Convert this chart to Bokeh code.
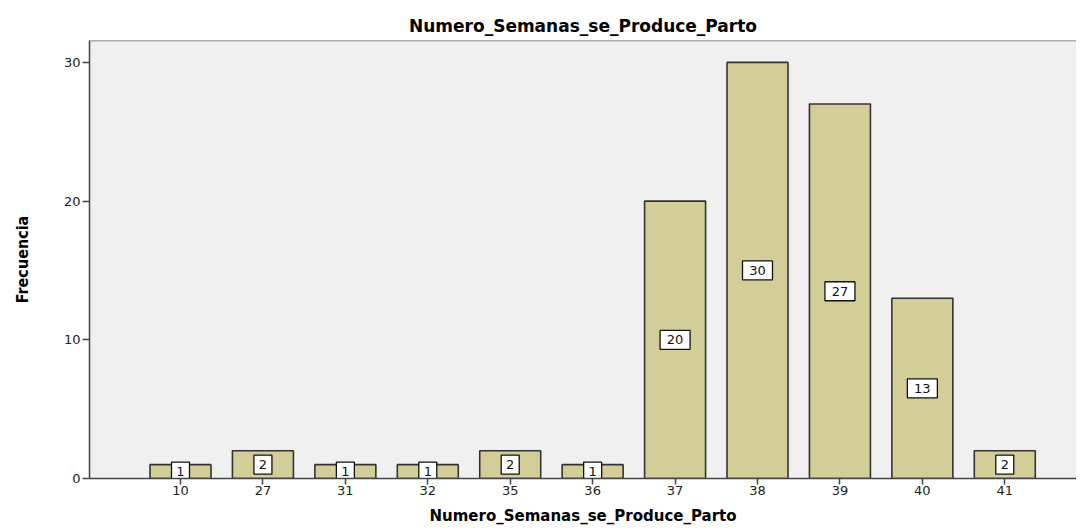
from bokeh.plotting import figure
from bokeh.models import ColumnDataSource, FixedTicker, Range1d, Span
from bokeh.core.properties import value
from bokeh.embed import file_html
from bokeh.resources import INLINE

semanas = ["10", "27", "31", "32", "35", "36", "37", "38", "39", "40", "41"]
frecuencia = [1, 2, 1, 1, 2, 1, 20, 30, 27, 13, 2]

xs = list(range(len(semanas)))
src = ColumnDataSource(dict(
    x=xs,
    top=frecuencia,
    mid=[v / 2 for v in frecuencia],
    txt=[str(v) for v in frecuencia],
    bw=[6 + 12 * len(str(v)) for v in frecuencia],
))

YTOP = 31.58
p = figure(width=1076, height=527, output_backend="svg", toolbar_location=None,
           x_range=Range1d(-1.104, 10.87), y_range=Range1d(0, YTOP),
           min_border_left=89, min_border_right=0, min_border_top=40, min_border_bottom=48)

p.title.text = "Numero_Semanas_se_Produce_Parto"
p.title.align = "center"
p.title.text_font = "DejaVu Sans"
p.title.text_font_size = "17px"
p.title.text_font_style = "bold"
p.title.text_color = "black"
p.title.offset = -4

p.background_fill_color = "#f0f0f0"
p.border_fill_color = "white"
p.outline_line_color = None
p.grid.visible = False

# top frame line
p.add_layout(Span(location=YTOP, dimension="width", line_color="#666666", line_width=1.5))

p.vbar(x="x", top="top", width=0.74, bottom=0, source=src,
       fill_color="#d3ce97", line_color="#333333", line_width=1.6)

p.rect(x="x", y="mid", width="bw", height=19, width_units="screen", height_units="screen",
       source=src, fill_color="white", line_color="#111111", line_width=1.3)
p.text(x="x", y="mid", text="txt", source=src, text_align="center", text_baseline="middle",
       text_font=value("DejaVu Sans"), text_font_size="13px", text_color="#111111")

p.xaxis.ticker = FixedTicker(ticks=xs)
p.xaxis.major_label_overrides = {i: s for i, s in zip(xs, semanas)}
p.yaxis.ticker = FixedTicker(ticks=[0, 10, 20, 30])

for ax in (p.xaxis, p.yaxis):
    ax.axis_line_color = "#444444"
    ax.axis_line_width = 1.5
    ax.major_tick_line_color = "#444444"
    ax.major_tick_line_width = 1.5
    ax.minor_tick_line_color = None
    ax.major_label_text_font = "DejaVu Sans"
    ax.major_label_text_font_size = "13px"
    ax.major_label_text_color = "#222222"
    ax.axis_label_text_font_style = "bold"
    ax.axis_label_text_color = "black"

p.xaxis.major_tick_out = 6
p.xaxis.major_tick_in = 0
p.yaxis.major_tick_out = 7
p.yaxis.major_tick_in = 0
p.xaxis.major_label_standoff = 1
p.yaxis.major_label_standoff = 2

p.xaxis.axis_label = "Numero_Semanas_se_Produce_Parto"
p.xaxis.axis_label_text_font = "DejaVu Sans"
p.xaxis.axis_label_text_font_size = "15px"
p.xaxis.axis_label_standoff = 9

p.yaxis.axis_label = "Frecuencia"
p.yaxis.axis_label_text_font = "DejaVu Sans Condensed"
p.yaxis.axis_label_text_font_size = "16px"
p.yaxis.axis_label_standoff = 29

open("out.html", "w").write(file_html(p, INLINE))
